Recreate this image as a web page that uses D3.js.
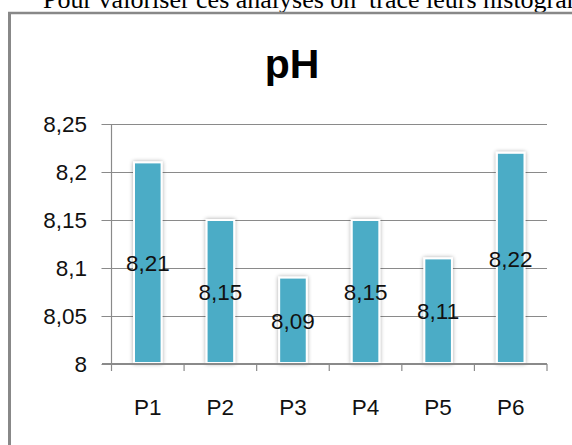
<!DOCTYPE html>
<html><head><meta charset="utf-8">
<script src="https://cdn.jsdelivr.net/npm/d3@7"></script>
<style>html,body{margin:0;padding:0;background:#fff;overflow:hidden}</style>
</head><body>
<svg id="c" width="572" height="445"></svg>
<script>
const categories = ["P1","P2","P3","P4","P5","P6"];
const values = [8.21, 8.15, 8.09, 8.15, 8.11, 8.22];
const yTicks = [8, 8.05, 8.1, 8.15, 8.2, 8.25];
const title = "pH";
const captionLeft = "Pour valoriser ces analyses on";
const captionRight = "tracé leurs histogrammes";

const svg = d3.select("#c");
const fr = d3.formatLocale({decimal: ",", thousands: " ", grouping: [3], currency: ["", "€"]});
const fmt = v => fr.format("~g")(v);
const fontUI = "'Liberation Sans', Arial, sans-serif";
const fs = 22.5;

// caption (cut at top, as in the source document)
svg.append("text").attr("x", 43).attr("y", 8).attr("font-family", "'Liberation Serif', 'Times New Roman', serif")
  .attr("font-size", 26).attr("fill", "#000").text(captionLeft);
svg.append("text").attr("x", 369).attr("y", 8).attr("font-family", "'Liberation Serif', 'Times New Roman', serif")
  .attr("font-size", 26).attr("fill", "#000").text(captionRight);

// frame
svg.append("line").attr("x1", 9.5).attr("x2", 9.5).attr("y1", 12).attr("y2", 445).attr("stroke", "#888").attr("stroke-width", 3);
svg.append("line").attr("x1", 8).attr("x2", 572).attr("y1", 13).attr("y2", 13).attr("stroke", "#888").attr("stroke-width", 2.5);

// title
svg.append("text").attr("x", 292).attr("y", 78).attr("text-anchor", "middle")
  .attr("font-family", "'Liberation Sans', Arial, sans-serif").attr("font-weight", "bold")
  .attr("font-size", 41).attr("fill", "#000").text(title);

const x = d3.scaleBand().domain(categories).range([111.5, 547]).paddingInner(0.62).paddingOuter(0.31);
const xb = d3.scaleBand().domain(categories).range([111.5, 547]);
const y = d3.scaleLinear().domain([8, 8.25]).range([364, 124]);

// gridlines with outward ticks
const gy = svg.append("g").attr("transform", "translate(111.5,0)")
  .call(d3.axisLeft(y).tickValues(yTicks).tickSize(-(547 - 111.5)).tickFormat(""));
gy.select(".domain").remove();
gy.selectAll(".tick line").attr("x1", -10).attr("stroke", "#8a8a8a").attr("stroke-width", 1.2);

// y axis line
svg.append("line").attr("x1", 111.5).attr("x2", 111.5).attr("y1", 124).attr("y2", 364).attr("stroke", "#8a8a8a").attr("stroke-width", 1.2);

// y labels
svg.append("g").selectAll("text").data(yTicks).join("text")
  .attr("x", 87).attr("y", d => y(d)).attr("dy", "0.36em").attr("text-anchor", "end")
  .attr("font-family", fontUI).attr("font-size", fs).attr("fill", "#111").text(d => fmt(d));

// shadow filter
const defs = svg.append("defs");
const f = defs.append("filter").attr("id", "sh").attr("x", "-50%").attr("y", "-20%").attr("width", "200%").attr("height", "140%");
f.append("feGaussianBlur").attr("in", "SourceAlpha").attr("stdDeviation", 2.2).attr("result", "b");
f.append("feComponentTransfer").attr("in", "b").attr("result", "o2").append("feFuncA").attr("type", "linear").attr("slope", 0.35);
const m = f.append("feMerge"); m.append("feMergeNode").attr("in", "o2"); m.append("feMergeNode").attr("in", "SourceGraphic");

// bars
svg.append("g").selectAll("rect").data(values).join("rect")
  .attr("x", (d, i) => x(categories[i])).attr("width", x.bandwidth())
  .attr("y", d => y(d)).attr("height", d => y(8) - y(d) - 1)
  .attr("fill", "#4BACC6").attr("stroke", "#fff").attr("stroke-width", 2)
  .attr("filter", "url(#sh)");

// x axis
svg.append("line").attr("x1", 102).attr("x2", 547).attr("y1", 364).attr("y2", 364).attr("stroke", "#8a8a8a").attr("stroke-width", 2);
const edges = categories.map(c => xb(c)).concat([547]);
svg.append("g").selectAll("line").data(edges).join("line")
  .attr("x1", d => d).attr("x2", d => d).attr("y1", 364).attr("y2", 371).attr("stroke", "#8a8a8a").attr("stroke-width", 1.2);

// x labels
svg.append("g").selectAll("text").data(categories).join("text")
  .attr("x", d => xb(d) + xb.bandwidth() / 2).attr("y", 415).attr("text-anchor", "middle")
  .attr("font-family", fontUI).attr("font-size", fs).attr("fill", "#111").text(d => d);

// value labels
svg.append("g").selectAll("text").data(values).join("text")
  .attr("x", (d, i) => x(categories[i]) + x.bandwidth() / 2)
  .attr("y", d => (y(d) + y(8)) / 2).attr("dy", "0.36em").attr("text-anchor", "middle")
  .attr("font-family", fontUI).attr("font-size", fs).attr("fill", "#111").text(d => fmt(d));
</script>
</body></html>
